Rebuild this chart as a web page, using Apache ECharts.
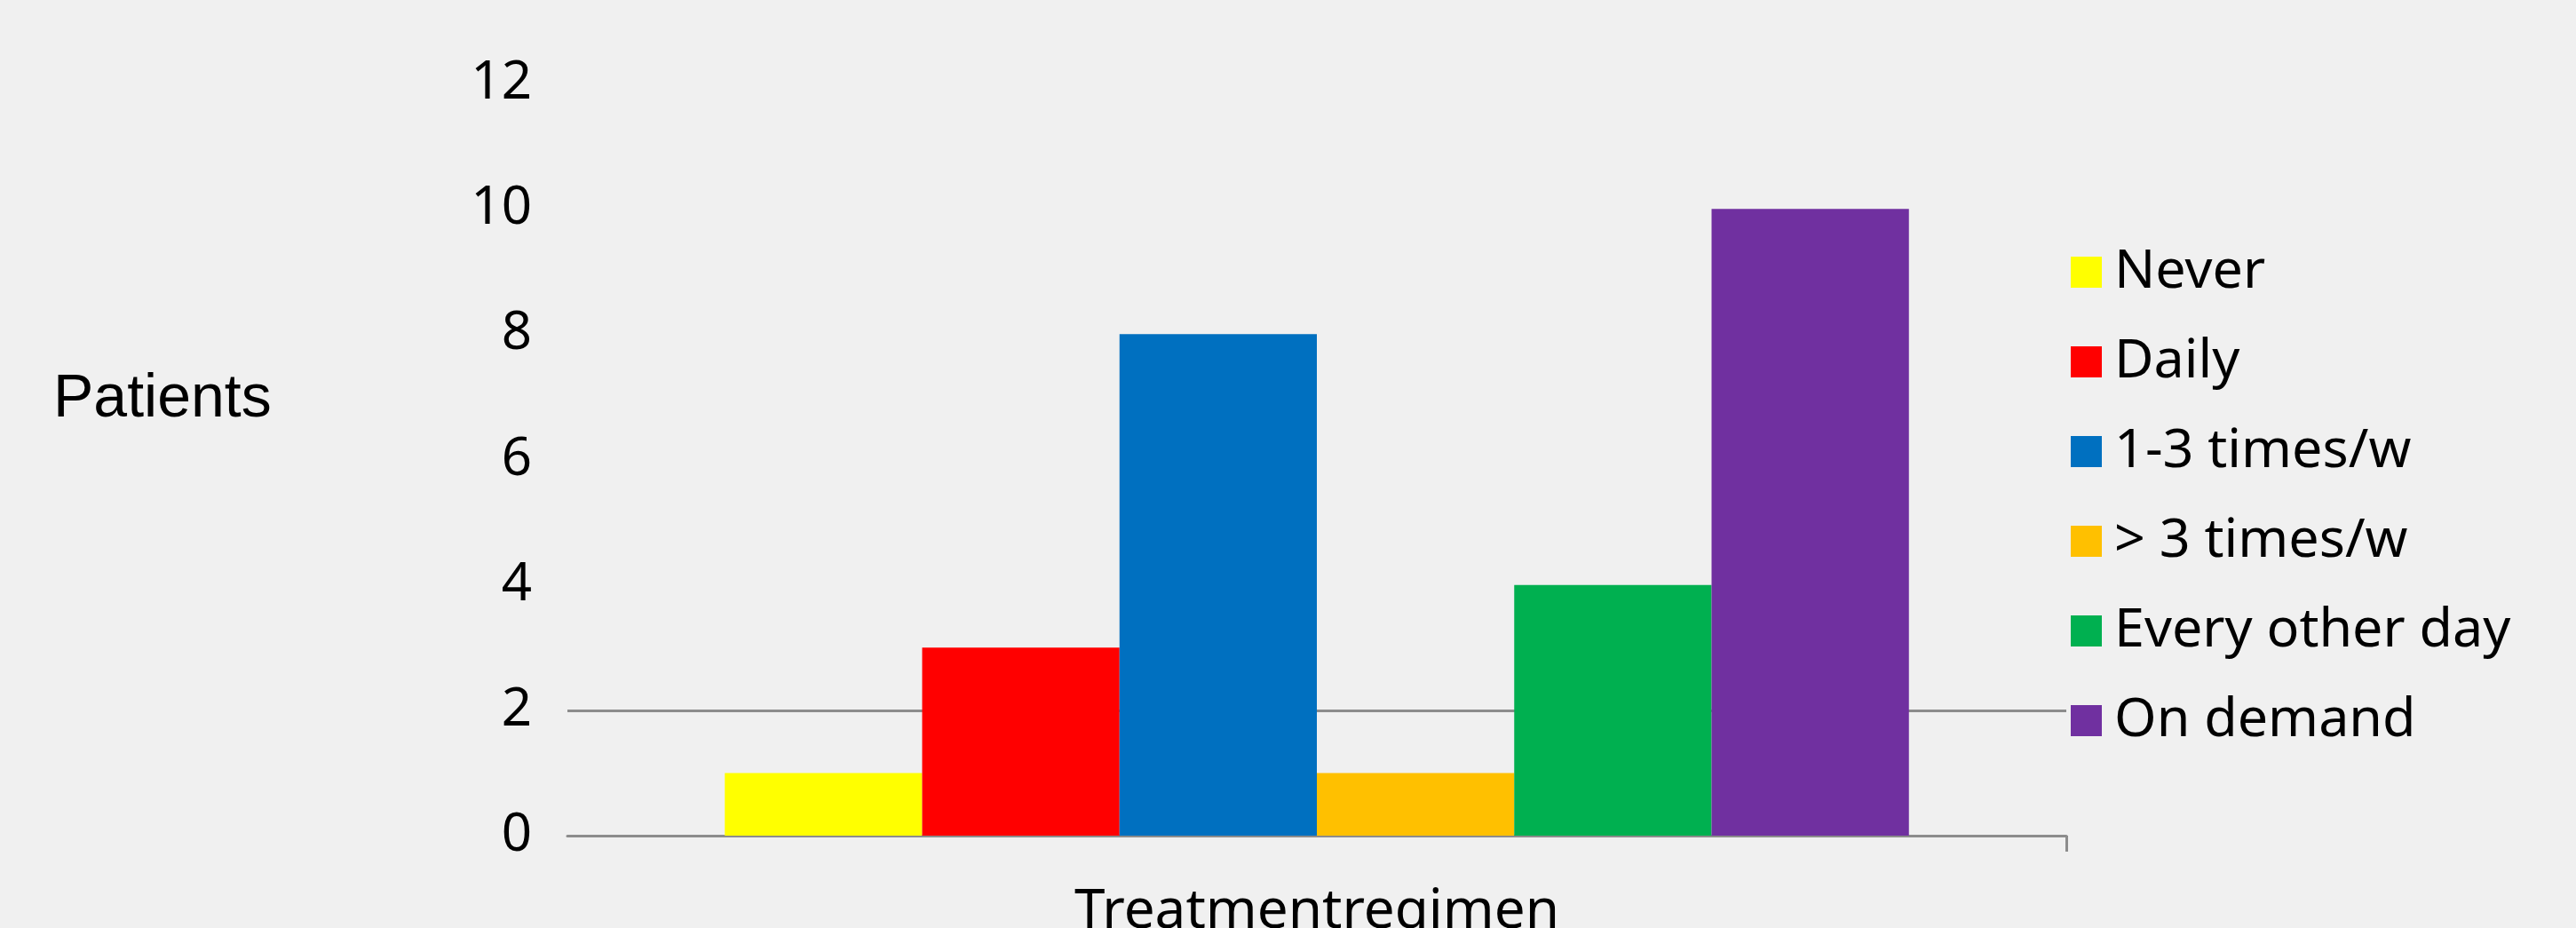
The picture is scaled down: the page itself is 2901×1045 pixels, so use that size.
<!DOCTYPE html>
<html>
<head>
<meta charset="utf-8">
<script src="https://cdn.jsdelivr.net/npm/echarts@6/dist/echarts.min.js"></script>
<style>
html,body{margin:0;padding:0;background:#f0f0f0;}
#chart{width:2901px;height:1045px;}
</style>
</head>
<body>
<div id="chart"></div>
<script>
const categories = ['Treatmentregimen'];
const seriesNames = ['Never', 'Daily', '1-3 times/w', '> 3 times/w', 'Every other day', 'On demand'];
const seriesValues = [[1], [3], [8], [1], [4], [10]];
const seriesColors = ['#FFFF00', '#FF0000', '#0070C0', '#FFC000', '#00B050', '#7030A0'];
const yTicks = [0, 2, 4, 6, 8, 10, 12];
const yAxisTitle = 'Patients';

const chart = echarts.init(document.getElementById('chart'));
const option = {
  backgroundColor: '#f0f0f0',
  animation: false,
  graphic: [{
    type: 'text',
    left: 60,
    top: 416,
    style: {
      text: yAxisTitle,
      font: '68px "Liberation Sans", Arial, sans-serif',
      fill: '#000'
    }
  }],
  grid: { left: 639, right: 574, top: 94, bottom: 104, containLabel: false, outerBoundsMode: 'none' },
  legend: {
    orient: 'vertical',
    left: 2327,
    top: 271,
    itemWidth: 35,
    itemHeight: 35,
    itemGap: 40,
    icon: 'rect',
    data: seriesNames,
    textStyle: {
      fontFamily: '"Noto Sans", sans-serif',
      fontSize: 61,
      color: '#000',
      padding: [0, 0, 0, 9]
    }
  },
  xAxis: [{
    type: 'category',
    data: categories,
    axisLine: { show: true, lineStyle: { color: '#8c8c8c', width: 3 } },
    axisTick: { show: false },
    axisLabel: {
      margin: 55,
      fontFamily: '"Noto Sans", sans-serif',
      fontSize: 62,
      color: '#000'
    }
  }, {
    type: 'value',
    position: 'bottom',
    min: 0,
    max: 1,
    axisLine: { show: false },
    axisLabel: { show: false },
    splitLine: { show: false },
    axisTick: {
      show: true,
      customValues: [1],
      length: 18,
      lineStyle: { color: '#8c8c8c', width: 3 }
    }
  }],
  yAxis: {
    type: 'value',
    min: yTicks[0],
    max: yTicks[yTicks.length - 1],
    interval: 2,
    axisLine: { show: false },
    axisTick: { show: false },
    axisLabel: {
      margin: 40,
      fontFamily: '"Noto Sans", sans-serif',
      fontSize: 60,
      color: '#000'
    },
    splitLine: {
      show: true,
      lineStyle: {
        width: 3,
        color: ['rgba(0,0,0,0)', '#8c8c8c', 'rgba(0,0,0,0)', 'rgba(0,0,0,0)', 'rgba(0,0,0,0)', 'rgba(0,0,0,0)', 'rgba(0,0,0,0)']
      }
    }
  },
  series: seriesNames.map((name, i) => ({
    name: name,
    type: 'bar',
    xAxisIndex: 0,
    data: seriesValues[i],
    barGap: '0%',
    barCategoryGap: '21%',
    itemStyle: { color: seriesColors[i] }
  }))
};
chart.setOption(option);
</script>
</body>
</html>
